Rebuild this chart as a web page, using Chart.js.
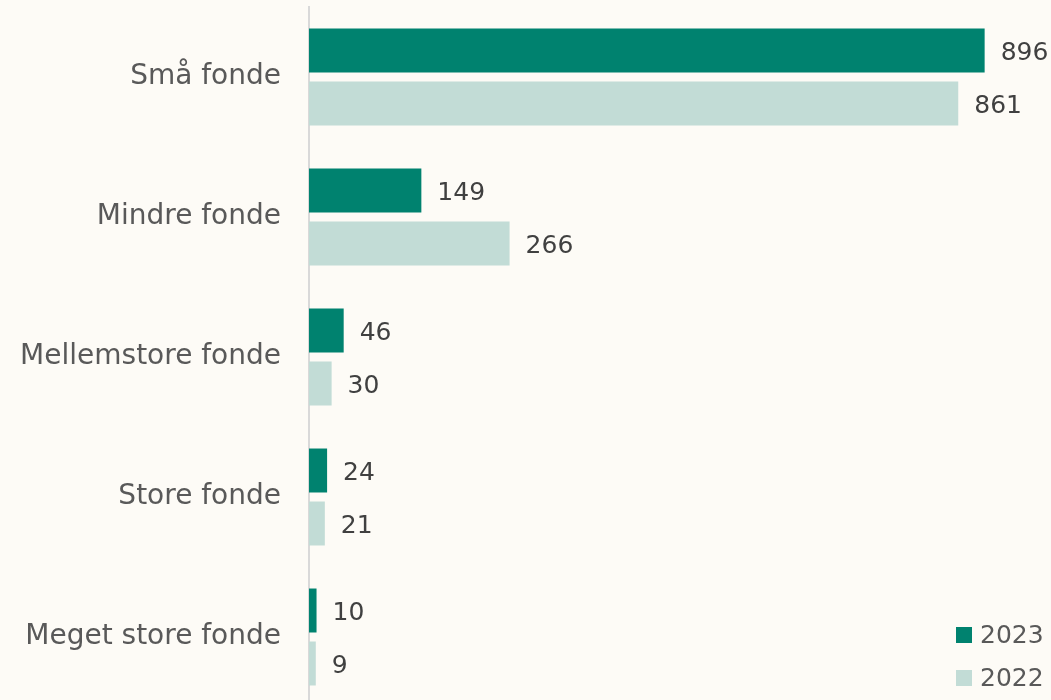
<!DOCTYPE html>
<html>
<head>
<meta charset="utf-8">
<script src="https://cdn.jsdelivr.net/npm/chart.js@4.4.1/dist/chart.umd.min.js"></script>
<style>
  html, body { margin: 0; padding: 0; background: #FDFBF6; overflow: hidden; }
  #wrap { position: relative; width: 1051px; height: 707px; }
</style>
</head>
<body>
<div id="wrap"><canvas id="c"></canvas></div>
<script>
const categories = ['Små fonde', 'Mindre fonde', 'Mellemstore fonde', 'Store fonde', 'Meget store fonde'];
const values2023 = [896, 149, 46, 24, 10];
const values2022 = [861, 266, 30, 21, 9];
const seriesLabels = ['2023', '2022'];

const FONT = '"DejaVu Sans", sans-serif';

const valueLabels = {
  id: 'valueLabels',
  afterDatasetsDraw(chart) {
    const ctx = chart.ctx;
    ctx.save();
    ctx.font = '25px ' + FONT;
    ctx.fillStyle = '#404040';
    ctx.textAlign = 'left';
    ctx.textBaseline = 'middle';
    chart.data.datasets.forEach((ds, i) => {
      chart.getDatasetMeta(i).data.forEach((bar, j) => {
        ctx.fillText(String(ds.data[j]), bar.x + 16, bar.y + 3);
      });
    });
    ctx.restore();
  }
};

const cornerLegend = {
  id: 'cornerLegend',
  afterDraw(chart) {
    const ctx = chart.ctx;
    ctx.save();
    ctx.font = '25px ' + FONT;
    ctx.textAlign = 'left';
    ctx.textBaseline = 'middle';
    chart.data.datasets.forEach((ds, i) => {
      const y = 635 + i * 43;
      ctx.fillStyle = ds.backgroundColor;
      ctx.fillRect(956, y - 8, 16, 16);
      ctx.fillStyle = '#595959';
      ctx.fillText(ds.label, 980, y + 1);
    });
    ctx.restore();
  }
};

new Chart(document.getElementById('c'), {
  type: 'bar',
  data: {
    labels: categories,
    datasets: [
      { label: seriesLabels[0], data: values2023, backgroundColor: '#00826F' },
      { label: seriesLabels[1], data: values2022, backgroundColor: '#C2DCD6' }
    ]
  },
  options: {
    indexAxis: 'y',
    responsive: true,
    maintainAspectRatio: false,
    animation: false,
    categoryPercentage: 0.757,
    barPercentage: 0.83,
    layout: { padding: { top: 7, bottom: 0, left: 0, right: 0 } },
    plugins: {
      legend: { display: false },
      tooltip: { enabled: false }
    },
    scales: {
      x: {
        display: false,
        min: 0,
        max: 984
      },
      y: {
        afterFit(scale) {
          scale.width = 309;
          scale.paddingTop = 0;
          scale.paddingBottom = 0;
        },
        grid: { display: false, drawTicks: false },
        border: { display: true, color: '#D9D9D9', width: 2 },
        ticks: {
          color: '#595959',
          padding: 28,
          font: { family: FONT, size: 28 }
        }
      }
    }
  },
  plugins: [valueLabels, cornerLegend]
});
</script>
</body>
</html>
